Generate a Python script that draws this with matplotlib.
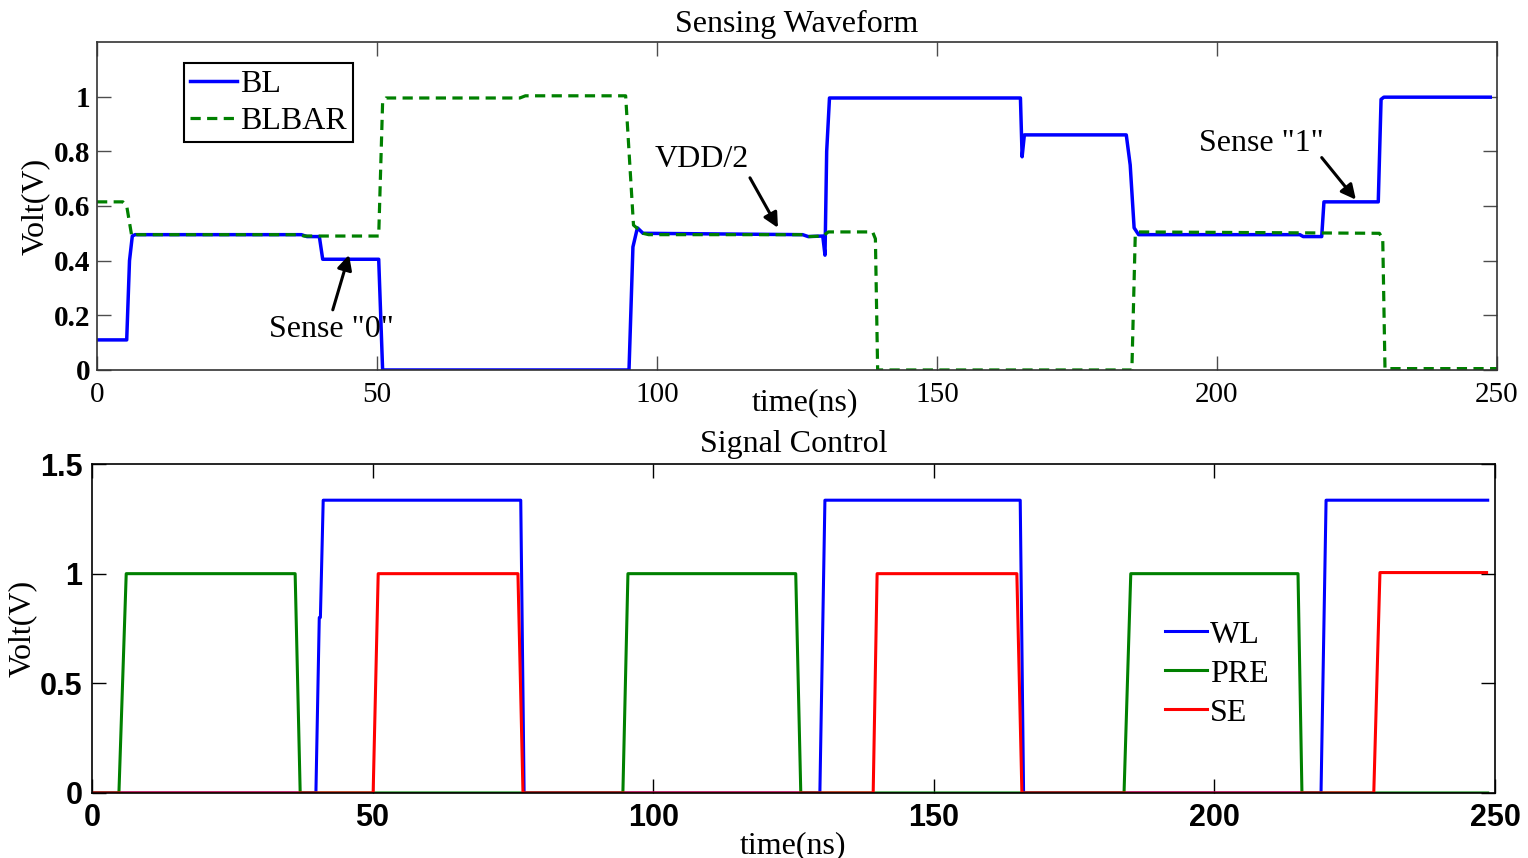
import numpy as np
import matplotlib
matplotlib.use('Agg')
import matplotlib.pyplot as plt
from matplotlib.ticker import FuncFormatter

serif = 'Liberation Serif'
sans = 'Liberation Sans'

# top panel: bit line waveforms (time in ns, volts)
bl_t = [0, 5.3, 5.8, 6.3, 6.8, 36.5, 37.5, 39.7, 40.3, 50.3, 51.0, 95.0, 95.7, 96.5, 97.5,
        126.0, 127.0, 129.6, 130.0, 130.3, 130.8, 164.9, 165.2, 165.6, 183.8, 184.5, 185.2,
        186.0, 214.8, 215.4, 218.7, 219.1, 228.8, 229.3, 229.8, 248.8]
bl_v = [0.11, 0.11, 0.40, 0.49, 0.495, 0.495, 0.488, 0.488, 0.405, 0.405, 0.0, 0.0, 0.45, 0.52, 0.50,
        0.495, 0.488, 0.49, 0.42, 0.80, 0.995, 0.995, 0.78, 0.86, 0.86, 0.75, 0.52,
        0.495, 0.495, 0.488, 0.488, 0.615, 0.615, 0.99, 0.998, 0.998]

blbar_t = [0, 4.6, 5.3, 6.2, 7.0, 36.0, 37.0, 50.3, 51.0, 51.6, 75.5, 76.5, 94.4, 95.0, 95.8,
           97.5, 98.5, 126.0, 127.0, 129.6, 130.6, 138.5, 139.0, 139.4, 184.8, 185.4, 186.0,
           229.0, 229.6, 230.0, 250.0]
blbar_v = [0.615, 0.615, 0.60, 0.49, 0.495, 0.495, 0.49, 0.49, 0.98, 0.995, 0.995, 1.003, 1.003, 0.80, 0.53,
           0.50, 0.495, 0.495, 0.488, 0.49, 0.505, 0.505, 0.48, 0.0, 0.0, 0.49, 0.505,
           0.50, 0.48, 0.005, 0.005]

# bottom panel: control signals
wl_t = [0, 39.9, 40.5, 40.7, 41.2, 76.4, 77.0, 129.7, 130.6, 165.4, 166.0, 219.0, 219.9, 248.7]
wl_v = [0, 0, 0.80, 0.80, 1.335, 1.335, 0, 0, 1.335, 1.335, 0, 0, 1.335, 1.335]

pre_t = [0, 4.8, 6.1, 36.2, 37.1, 94.6, 95.5, 125.4, 126.3, 183.9, 185.1, 214.9, 215.6, 248.7]
pre_v = [0, 0, 1, 1, 0, 0, 1, 1, 0, 0, 1, 1, 0, 0]

se_t = [0, 50.1, 51.0, 75.9, 76.8, 139.2, 139.9, 164.8, 165.7, 228.4, 229.5, 248.5]
se_v = [0, 0, 1, 1, 0, 0, 1, 1, 0, 0, 1.005, 1.005]

top_yticks = [0, 0.2, 0.4, 0.6, 0.8, 1]
bot_yticks = [0, 0.5, 1, 1.5]
xticks = [0, 50, 100, 150, 200, 250]

fmt = FuncFormatter(lambda v, p: '%g' % v)
fs = 23

fig = plt.figure(figsize=(15.28, 8.58), dpi=100)
ax1 = fig.add_axes([0.0635, 0.5688, 0.9162, 0.3823])
ax2 = fig.add_axes([0.0602, 0.0758, 0.9182, 0.3834])

# ---- top ----
ax1.plot(bl_t, bl_v, color='#0000ff', lw=2.5, label='BL')
ax1.plot(blbar_t, blbar_v, color='#008000', lw=2.3, dashes=(3.2, 2.0), label='BLBAR')
ax1.set_xlim(0, 250)
ax1.set_ylim(0, 1.2)
ax1.set_xticks(xticks)
ax1.set_yticks(top_yticks)
ax1.yaxis.set_major_formatter(fmt)
ax1.tick_params(direction='in', top=True, right=True, length=10, width=1,
                color='0.3', labelsize=21)
ax1.tick_params(axis='x', pad=9)
ax1.tick_params(axis='y', pad=5)
for lab in ax1.get_xticklabels():
    lab.set_fontfamily(serif)
for lab in ax1.get_yticklabels():
    lab.set_fontfamily(serif)
    lab.set_fontweight('bold')
for s in ax1.spines.values():
    s.set_color('0.2')
    s.set_linewidth(1.2)
ax1.set_title('Sensing Waveform', fontfamily=serif, fontsize=fs, pad=7)
ax1.set_xlabel('time(ns)', fontfamily=serif, fontsize=fs)
ax1.xaxis.set_label_coords(0.506, -0.055)
ax1.set_ylabel('Volt(V)', fontfamily=serif, fontsize=fs)
ax1.yaxis.set_label_coords(-0.034, 0.5)

leg1 = ax1.legend(loc='upper left', bbox_to_anchor=(0.062, 0.936), borderaxespad=0,
                  fancybox=False, framealpha=1, edgecolor='black', handlelength=1.45,
                  handletextpad=0.1, borderpad=0.2, labelspacing=0.25,
                  prop={'family': serif, 'size': fs})
leg1.get_frame().set_linewidth(1.5)

arrow = dict(arrowstyle='-|>', color='black', lw=2.2, mutation_scale=22, shrinkA=0, shrinkB=0)
ax1.annotate('', xy=(45.0, 0.421), xytext=(42.1, 0.22), arrowprops=arrow)
ax1.text(41.8, 0.147, 'Sense "0"', fontfamily=serif, fontsize=fs, ha='center', va='center')
ax1.annotate('', xy=(121.6, 0.52), xytext=(116.6, 0.703), arrowprops=arrow)
ax1.text(108.0, 0.77, 'VDD/2', fontfamily=serif, fontsize=fs, ha='center', va='center')
ax1.annotate('', xy=(224.8, 0.623), xytext=(218.7, 0.777), arrowprops=arrow)
ax1.text(208.0, 0.83, 'Sense "1"', fontfamily=serif, fontsize=fs, ha='center', va='center')

# ---- bottom ----
ax2.plot(wl_t, wl_v, color='#0000ff', lw=2.2, label='WL')
ax2.plot(pre_t, pre_v, color='#008000', lw=2.2, label='PRE')
ax2.plot(se_t, se_v, color='#ff0000', lw=2.2, label='SE')
ax2.set_xlim(0, 250)
ax2.set_ylim(0, 1.5)
ax2.set_xticks(xticks)
ax2.set_yticks(bot_yticks)
ax2.yaxis.set_major_formatter(fmt)
ax2.tick_params(direction='in', top=True, right=True, length=10, width=1, pad=7,
                color='black', labelsize=22)
for lab in ax2.get_xticklabels() + ax2.get_yticklabels():
    lab.set_fontfamily(sans)
    lab.set_fontweight('bold')
for s in ax2.spines.values():
    s.set_color('black')
    s.set_linewidth(1.2)
ax2.set_title('Signal Control', fontfamily=serif, fontsize=fs, pad=9)
ax2.set_xlabel('time(ns)', fontfamily=serif, fontsize=fs)
ax2.xaxis.set_label_coords(0.5, -0.115)
ax2.set_ylabel('Volt(V)', fontfamily=serif, fontsize=fs)
ax2.yaxis.set_label_coords(-0.039, 0.5)

ax2.legend(loc='upper left', bbox_to_anchor=(0.765, 0.525), borderaxespad=0, frameon=False,
           handlelength=1.3, handletextpad=0.1, borderpad=0, labelspacing=0.3,
           prop={'family': serif, 'size': fs})

fig.savefig('out.png', dpi=100)
